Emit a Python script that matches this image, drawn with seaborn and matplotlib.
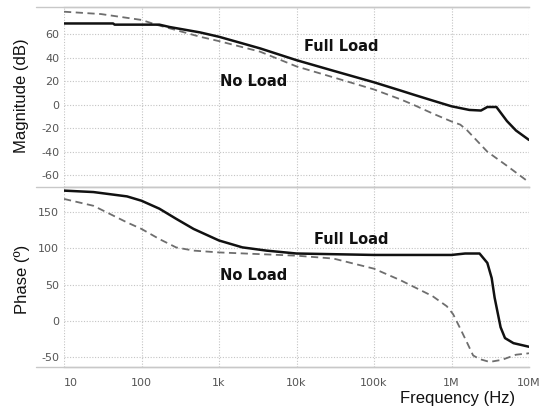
import numpy as np
import pandas as pd
import matplotlib
matplotlib.use("Agg")
import matplotlib.pyplot as plt
from matplotlib.lines import Line2D
from matplotlib.ticker import LogLocator, MultipleLocator, NullFormatter
import seaborn as sns

# ---------------- data ----------------
freq_mag_full = [10, 43, 45, 170, 230, 570, 1e3, 3.4e3, 1e4, 3.1e4, 1e5, 2.2e5, 3.2e5, 5.7e5, 1e6, 1.7e6, 2.4e6, 2.9e6, 3.8e6, 5.2e6, 6.8e6, 1e7]
mag_full = [69, 69, 68, 68, 66, 61.4, 57.7, 47.8, 37.8, 28.5, 19, 12, 8.6, 3.5, -1.4, -4.5, -5, -2, -2, -14, -22, -30]

freq_mag_noload = [10, 30, 100, 160, 230, 570, 1e3, 3.4e3, 1e4, 3.1e4, 1e5, 2.2e5, 3.2e5, 5.7e5, 1e6, 1.3e6, 1.6e6, 2.9e6, 5.2e6, 1e7]
mag_noload = [79, 77, 72, 67.7, 64.9, 57.7, 54, 45, 32.5, 22.9, 12.9, 4.5, 0, -7.5, -14.3, -17, -22, -40, -52, -66]

freq_ph_full = [10, 24, 65, 100, 170, 280, 470, 1e3, 2e3, 4.1e3, 1e4, 1e5, 1e6, 1.5e6, 2.3e6, 2.9e6, 3.3e6, 3.6e6, 4.3e6, 4.9e6, 6.3e6, 1e7]
ph_full = [180, 178, 172, 166, 155, 141, 127, 111, 101.5, 97, 93, 91, 91, 93, 93, 80, 59, 32, -9, -24, -31, -36]

freq_ph_noload = [10, 24, 65, 100, 170, 280, 470, 1e3, 1e4, 3e4, 1e5, 2.2e5, 5.7e5, 8.7e5, 1.05e6, 1.3e6, 1.6e6, 1.9e6, 2.3e6, 3.1e6, 4.5e6, 6.8e6, 1e7]
ph_noload = [168.5, 159, 136, 127, 113, 101.4, 97, 94.5, 90, 86, 72, 56, 34, 20, 9, -11, -31, -48, -53, -57, -54, -47, -45]

xtick_vals = [10, 100, 1e3, 1e4, 1e5, 1e6, 1e7]
xtick_labels = ["10", "100", "1k", "10k", "100k", "1M", "10M"]
mag_ticks = [-60, -40, -20, 0, 20, 40, 60]
ph_ticks = [-50, 0, 50, 100, 150]

# ---------------- figure ----------------
sns.set_style("white")
plt.rcParams["font.family"] = ["DejaVu Sans"]
plt.rcParams["axes.unicode_minus"] = False

W, H = 545, 409
fig = plt.figure(figsize=(W / 100, H / 100), dpi=100)
left, right = 64 / W, 529 / W
ax1 = fig.add_axes([left, 1 - 187 / H, right - left, 180 / H])
ax2 = fig.add_axes([left, 1 - 367 / H, right - left, 180 / H], sharex=ax1)

solid_kw = dict(color="#111111", linewidth=1.8)
dash_kw = dict(color="#6e6e6e", linewidth=1.3, linestyle=(0, (4, 2.5)))

df_mf = pd.DataFrame({"f": freq_mag_full, "v": mag_full})
df_mn = pd.DataFrame({"f": freq_mag_noload, "v": mag_noload})
df_pf = pd.DataFrame({"f": freq_ph_full, "v": ph_full})
df_pn = pd.DataFrame({"f": freq_ph_noload, "v": ph_noload})

sns.lineplot(data=df_mn, x="f", y="v", ax=ax1, **dash_kw)
sns.lineplot(data=df_mf, x="f", y="v", ax=ax1, **solid_kw)
sns.lineplot(data=df_pn, x="f", y="v", ax=ax2, **dash_kw)
sns.lineplot(data=df_pf, x="f", y="v", ax=ax2, **solid_kw)

for ax in (ax1, ax2):
    ax.set_xscale("log")
    ax.set_xlim(10, 1e7)
    ax.set_xlabel("")
    ax.set_ylabel("")
    ax.grid(True, which="major", color="#c4c4c4", linestyle=(0, (1, 1.5)), linewidth=0.8)
    for s in ("left", "right"):
        ax.spines[s].set_visible(False)
    for s in ("top", "bottom"):
        ax.spines[s].set_color("#c8c8c8")
        ax.spines[s].set_linewidth(1.0)
    ax.tick_params(axis="y", which="major", length=3, direction="inout", color="#cccccc",
                   labelsize=8, labelcolor="#555555", pad=2)
    ax.tick_params(axis="y", which="minor", length=2, direction="inout", color="#d0d0d0")

ax1.set_ylim(-70, 83)
ax1.set_yticks(mag_ticks)
ax1.yaxis.set_minor_locator(MultipleLocator(5))
ax2.set_ylim(-64, 185)
ax2.set_yticks(ph_ticks)
ax2.yaxis.set_minor_locator(MultipleLocator(10))

ax2.set_xticks(xtick_vals)
ax2.set_xticklabels(xtick_labels)
ax2.xaxis.set_minor_locator(LogLocator(base=10, subs=np.arange(2, 10)))
ax2.xaxis.set_minor_formatter(NullFormatter())
ax2.tick_params(axis="x", which="major", length=5, color="#333333", labelsize=8,
                labelcolor="#555555", pad=3, direction="out")
ax2.tick_params(axis="x", which="minor", length=3, color="#aaaaaa", direction="out")
ax2.get_xticklabels()[0].set_horizontalalignment("left")
ax1.tick_params(axis="x", which="both", length=0, labelbottom=False)

# extend horizontal borders to the left, as in the reference
for y in (7, 187, 367):
    fig.add_artist(Line2D([36 / W, right], [1 - y / H, 1 - y / H], transform=fig.transFigure,
                          color="#c8c8c8", linewidth=1.0))

# curve labels
bold = dict(fontsize=10.5, fontweight="bold", color="#111111", va="center", ha="left")
ax1.text(12500, 49.5, "Full Load", **bold)
ax1.text(1030, 20, "No Load", **bold)
ax2.text(16800, 112, "Full Load", **bold)
ax2.text(1030, 63, "No Load", **bold)

lab = dict(fontsize=12, family=["Liberation Sans", "DejaVu Sans"], color="#111111")
fig.text(22 / W, 1 - 95.5 / H, "Magnitude (dB)", rotation=90, ha="center", va="center", **lab)
fig.text(22 / W, 1 - 279 / H, "Phase (º)", rotation=90, ha="center", va="center", **lab)
fig.text(458 / W, 1 - 398 / H, "Frequency (Hz)", ha="center", va="center", **lab)

fig.savefig("out.png", dpi=100)
